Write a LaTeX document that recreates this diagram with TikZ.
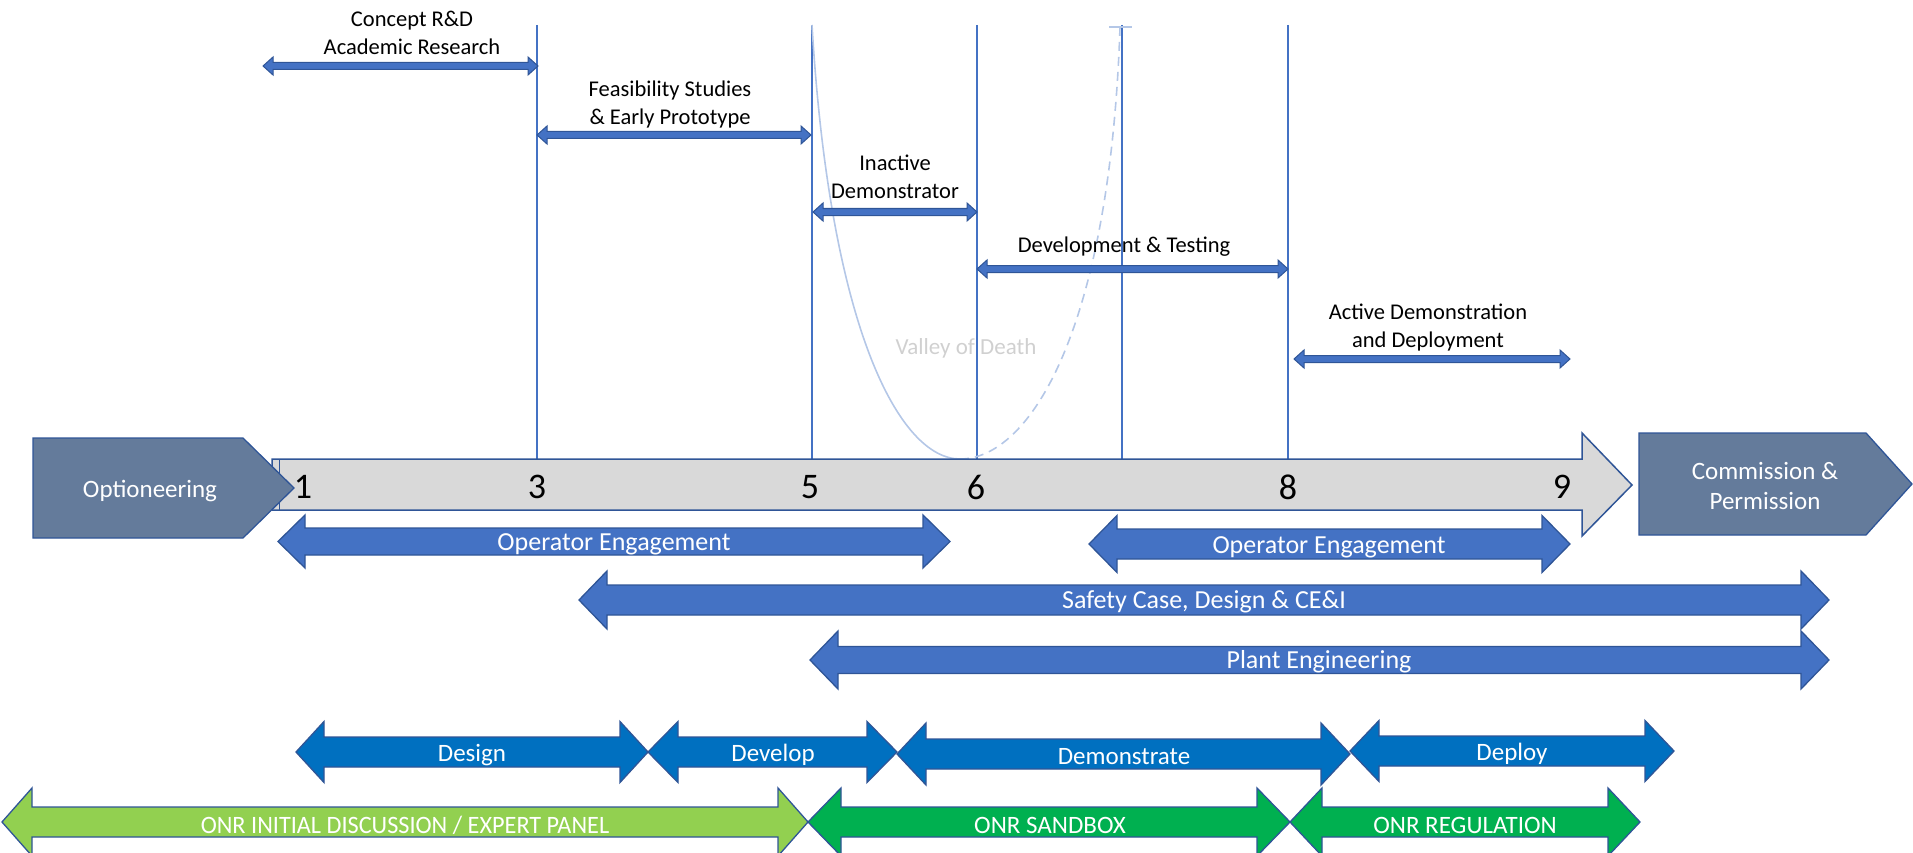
\documentclass[tikz,border=0pt]{standalone}
\usepackage{fontspec}
\setmainfont{Carlito}
\definecolor{ablue}{HTML}{4472C4}
\definecolor{aline}{HTML}{2F5597}
\definecolor{dblue}{HTML}{0070C0}
\definecolor{lgreen}{HTML}{92D050}
\definecolor{dgreen}{HTML}{00B050}
\definecolor{slate}{HTML}{647B9B}
\definecolor{vline}{HTML}{4472C4}
\definecolor{valley}{HTML}{B4C7E7}
\definecolor{vtext}{HTML}{D0D0D0}
\definecolor{greyfill}{HTML}{D9D9D9}
% x1 x2 y bodyhalf headhalf headlen style
\newcommand{\dblarrow}[7]{%
  \path[#7] (#1,#3) -- ({#1+#6},{#3-#5}) -- ({#1+#6},{#3-#4}) -- ({#2-#6},{#3-#4}) --
  ({#2-#6},{#3-#5}) -- (#2,#3) -- ({#2-#6},{#3+#5}) -- ({#2-#6},{#3+#4}) --
  ({#1+#6},{#3+#4}) -- ({#1+#6},{#3+#5}) -- cycle;}
\tikzset{
  thinarr/.style={fill=ablue, draw=aline, line width=1pt},
  midarr/.style={fill=ablue, draw=aline, line width=1.3pt},
  phasearr/.style={fill=dblue, draw=aline, line width=1.3pt},
  onrlight/.style={fill=lgreen, draw=aline, line width=1.3pt},
  onrdark/.style={fill=dgreen, draw=aline, line width=1.3pt},
  trl/.style={draw=vline, line width=1.2pt},
  toplabel/.style={align=center, font=\fontsize{22.5}{28}\selectfont, text=black, inner sep=0pt},
  pentlabel/.style={align=center, font=\fontsize{25}{30}\selectfont, text=white, inner sep=0pt},
  midlabel/.style={font=\fontsize{26}{30}\selectfont, text=white, inner sep=0pt},
  lowlabel/.style={font=\fontsize{25}{30}\selectfont, text=white, inner sep=0pt},
  num/.style={font=\fontsize{36}{40}\selectfont, text=black, inner sep=0pt},
  pent/.style={fill=slate, draw=aline, line width=1.3pt},
}
\begin{document}
\begin{tikzpicture}[x=1pt,y=-1pt]
\useasboundingbox (0,0) rectangle (1913,853);

% TRL vertical lines
\coordinate (l3t) at (537,25);  \coordinate (l3b) at (537,459);
\coordinate (l5t) at (812,25);  \coordinate (l5b) at (812,459);
\coordinate (l6t) at (977,25);  \coordinate (l6b) at (977,459);
\coordinate (l7t) at (1122,25); \coordinate (l7b) at (1122,459);
\coordinate (l8t) at (1288,25); \coordinate (l8b) at (1288,459);
\draw[trl] (l3t) -- (l3b);
\draw[trl] (l5t) -- (l5b);
\draw[trl] (l6t) -- (l6b);
\draw[trl] (l7t) -- (l7b);
\draw[trl] (l8t) -- (l8b);

% Valley of death
\coordinate (vmin) at (960,459);
\coordinate (vend) at (1120,27);
\draw[valley, line width=1.6pt] (l5t) .. controls (830,330) and (900,459) .. (vmin);
\draw[valley, line width=1.6pt, dash pattern=on 9pt off 6pt] (vmin) .. controls (1030,459) and (1110,330) .. (vend);
\draw[valley, line width=1.4pt] (1109,27) -- (1132,27);
\node[font=\fontsize{23}{26}\selectfont, text=vtext, inner sep=0pt] (vod) at (966,348) {Valley of Death};

% top arrows
\dblarrow{263}{538}{66}{3.5}{9}{10}{thinarr}
\node[toplabel] (t1) at (412,33) {Concept R\&D\\Academic Research};
\dblarrow{537}{811}{135}{3.5}{9}{10}{thinarr}
\node[toplabel] (t2) at (670,105) {Feasibility Studies\\\& Early Prototype};
\dblarrow{813}{977}{212}{3.5}{9}{10}{thinarr}
\node[toplabel] (t3) at (895,177) {Inactive\\Demonstrator};
\dblarrow{977}{1288}{269}{3.5}{9}{10}{thinarr}
\node[toplabel] (t4) at (1124,247) {Development \& Testing};
\dblarrow{1294}{1570}{359}{3.5}{9}{10}{thinarr}
\node[toplabel] (t5) at (1428,328) {Active Demonstration\\and Deployment};

% main grey arrow
\draw[fill=greyfill, draw=aline, line width=1.5pt] (272,459) -- (1582,459) -- (1582,433) -- (1632,485) -- (1582,536) -- (1582,510) -- (272,510) -- cycle;
\draw[aline, line width=1pt] (279,459) -- (279,510);
\node[num] (n1) at (303,487) {1};
\node[num] (n3) at (537,487) {3};
\node[num] (n5) at (810,487) {5};
\node[num] (n6) at (976,487) {6};
\node[num] (n8) at (1288,487) {8};
\node[num] (n9) at (1562,487) {9};

% pentagons
\path[pent] (33,438) -- (243,438) -- (294,488) -- (243,538) -- (33,538) -- cycle;
\node[pentlabel] (opt) at (150,491) {Optioneering};
\path[pent] (1639,433) -- (1866,433) -- (1912,484) -- (1866,535) -- (1639,535) -- cycle;
\node[pentlabel] (com) at (1765,486) {Commission \&\\Permission};

% middle arrows
\dblarrow{278}{950}{541.5}{13.5}{26.5}{27}{midarr}
\node[midlabel] (oe1) at (614,544) {Operator Engagement};
\dblarrow{1089}{1570}{544}{15}{28.5}{28}{midarr}
\node[midlabel] (oe2) at (1329,547) {Operator Engagement};
\dblarrow{579}{1829}{600}{15}{29}{28}{midarr}
\node[midlabel] (sc) at (1204,602) {Safety Case, Design \& CE\&I};
\dblarrow{810}{1829}{660}{13.5}{29}{28}{midarr}
\node[midlabel] (pe) at (1319,662) {Plant Engineering};

% phase arrows
\dblarrow{296}{648}{752}{15}{30.5}{28}{phasearr}
\node[lowlabel] (ds) at (472,755) {Design};
\dblarrow{648}{897}{752}{15}{30.5}{30}{phasearr}
\node[lowlabel] (dv) at (773,755) {Develop};
\dblarrow{897}{1350}{754}{15}{31}{29}{phasearr}
\node[lowlabel] (dm) at (1124,757) {Demonstrate};
\dblarrow{1350}{1674}{751}{15}{30.5}{29}{phasearr}
\node[lowlabel] (dp) at (1512,754) {Deploy};

% ONR arrows
\dblarrow{2}{808}{822}{15}{34}{30}{onrlight}
\node[lowlabel] (onr1) at (405,825) {\scalebox{0.97}[1]{ONR INITIAL DISCUSSION / EXPERT PANEL}};
\dblarrow{808}{1290}{822}{15}{34}{33}{onrdark}
\node[lowlabel] (onr2) at (1050,825) {ONR SANDBOX};
\dblarrow{1290}{1640}{822}{15}{34}{32}{onrdark}
\node[lowlabel] (onr3) at (1465,825) {ONR REGULATION};
\end{tikzpicture}
\end{document}
